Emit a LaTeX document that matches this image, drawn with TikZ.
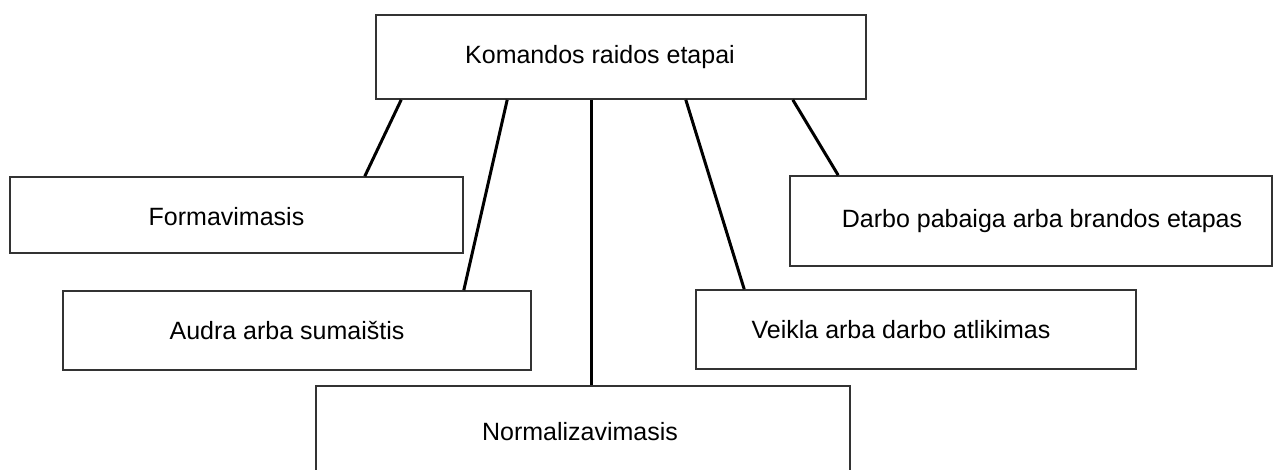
\documentclass[tikz,border=0pt]{standalone}
\usepackage{fontspec}
\setmainfont{Liberation Sans}
\begin{document}
\begin{tikzpicture}[x = 1pt, y = -1pt,
	stage/.style = {draw = black!80, line width = 1.6pt, rectangle, inner sep = 0pt},
	stagetext/.style = {font = \fontsize{25}{30}\selectfont, inner sep = 0pt},
	link/.style = {line width = 3pt}]
	\useasboundingbox (0,0) rectangle (1274,470);
	\clip (0,0) rectangle (1274,470);
	\fill[white] (0,0) rectangle (1274,470);
	
	\node[stage, minimum width = 490pt, minimum height = 84pt] (komandos) at (621,57) {};
	\node[stage, minimum width = 453pt, minimum height = 76pt] (formavimasis) at (236.5,215) {};
	\node[stage, minimum width = 468pt, minimum height = 79pt] (audra) at (297,330.5) {};
	\node[stage, minimum width = 534pt, minimum height = 92pt] (normalizavimasis) at (583,432) {};
	\node[stage, minimum width = 440pt, minimum height = 79pt] (veikla) at (916,329.5) {};
	\node[stage, minimum width = 482pt, minimum height = 90pt] (darbo) at (1031,221) {};
	
	\node[stagetext] (komandosText) at ([xshift = -21pt]komandos.center) {Komandos raidos etapai};
	\node[stagetext] (formavimasisText) at ([xshift = -10pt, yshift = -2pt]formavimasis.center) {Formavimasis};
	\node[stagetext] (audraText) at ([xshift = -10pt]audra.center) {Audra arba sumaištis};
	\node[stagetext] (normalizavimasisText) at ([xshift = -3pt]normalizavimasis.center) {Normalizavimasis};
	\node[stagetext] (veiklaText) at ([xshift = -15pt]veikla.center) {Veikla arba darbo atlikimas};
	\node[stagetext] (darboText) at ([xshift = 11pt]darbo.center) {Darbo pabaiga arba brandos etapas};
	
	\draw[link] ([xshift = 26pt]komandos.south west) -- ([xshift = -99pt]formavimasis.north east);
	\draw[link] ([xshift = 132pt]komandos.south west) -- ([xshift = -68pt]audra.north east);
	\draw[link] ([xshift = 216pt]komandos.south west) -- ([xshift = 276pt]normalizavimasis.north west);
	\draw[link] ([xshift = -181pt]komandos.south east) -- ([xshift = 49pt]veikla.north west);
	\draw[link] ([xshift = -74pt]komandos.south east) -- ([xshift = 49pt]darbo.north west);
\end{tikzpicture}
\end{document}
